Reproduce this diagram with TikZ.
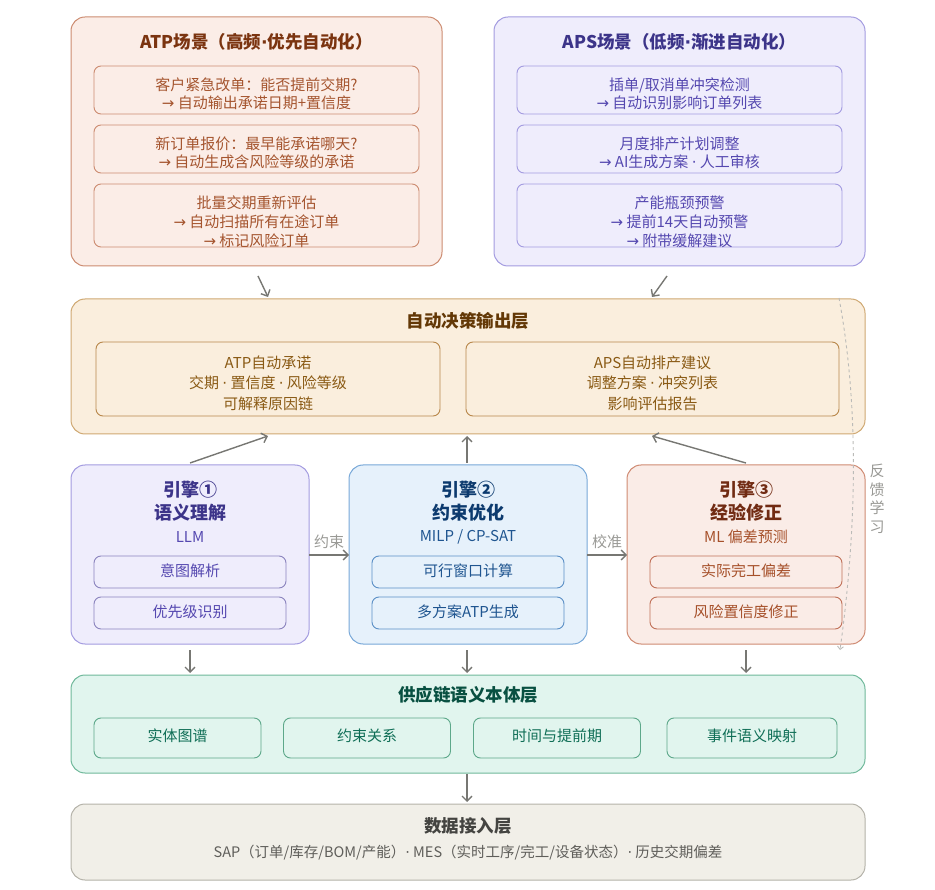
\documentclass[tikz,border=0pt]{standalone}
\usepackage{fontspec}
\setmainfont{Noto Sans CJK SC}
\newfontfamily\arrfont{DejaVu Sans}
\newcommand{\ra}{{\arrfont\char"2192}}
\newcommand{\md}{{\arrfont\char"00B7}}
\usetikzlibrary{arrows.meta,calc}
\definecolor{atpfill}{HTML}{FBEDE7}
\definecolor{atpdraw}{HTML}{CC8B70}
\definecolor{atptitle}{HTML}{7B3410}
\definecolor{atptext}{HTML}{A5552F}
\definecolor{apsfill}{HTML}{EFEDFC}
\definecolor{apsdraw}{HTML}{A39BE0}
\definecolor{apstitle}{HTML}{3C3489}
\definecolor{apstext}{HTML}{5548B0}
\definecolor{decfill}{HTML}{FAEEDD}
\definecolor{decdraw}{HTML}{CFA872}
\definecolor{decsub}{HTML}{B8874A}
\definecolor{dectitle}{HTML}{633806}
\definecolor{dectext}{HTML}{8A5A14}
\definecolor{eonefill}{HTML}{EFEDFC}
\definecolor{etwofill}{HTML}{E6F1FB}
\definecolor{etwodraw}{HTML}{78A8D8}
\definecolor{etwosub}{HTML}{5B8FC6}
\definecolor{etwotitle}{HTML}{0C3A6E}
\definecolor{etwotext}{HTML}{1F5590}
\definecolor{ethrfill}{HTML}{FAECE7}
\definecolor{ethrdraw}{HTML}{CF8A72}
\definecolor{ethrsub}{HTML}{C07058}
\definecolor{ethrtitle}{HTML}{712B13}
\definecolor{ethrtext}{HTML}{A6502A}
\definecolor{ontfill}{HTML}{E1F5EE}
\definecolor{ontdraw}{HTML}{6FB89A}
\definecolor{ontsub}{HTML}{5DA88A}
\definecolor{onttitle}{HTML}{085041}
\definecolor{onttext}{HTML}{0F6E56}
\definecolor{datfill}{HTML}{F1EFE8}
\definecolor{datdraw}{HTML}{B4B2A9}
\definecolor{dattitle}{HTML}{444441}
\definecolor{dattext}{HTML}{5F5E5A}
\definecolor{arrgray}{HTML}{777773}
\definecolor{fbgray}{HTML}{BBBBB8}
\definecolor{fbtext}{HTML}{999995}
\begin{document}
\begin{tikzpicture}[x=1pt,y=-1pt,
  panel/.style={draw, rounded corners=14pt, line width=1pt, inner sep=0pt, outer sep=0pt},
  subbox/.style={draw, rounded corners=7pt, line width=0.9pt, inner sep=0pt, outer sep=0pt},
  txt/.style={align=center, inner sep=0pt, font=\fontsize{15}{18}\selectfont},
  ttl/.style={align=center, inner sep=0pt, font=\fontsize{17.5}{21}\selectfont\bfseries},
  etl/.style={align=center, inner sep=0pt, font=\fontsize{18}{22.5}\selectfont\bfseries},
  arr/.style={draw=arrgray, line width=1.4pt, -{Straight Barb[length=5pt,width=10pt]}},
  lbl/.style={inner sep=0pt, text=fbtext, font=\fontsize{15}{18}\selectfont}
]
\useasboundingbox (0,0) rectangle (935,890);

% ATP scenario
\node[panel, fill=atpfill, draw=atpdraw, minimum width=371pt, minimum height=249pt] (atp) at (256.5,141.5) {};
\node[ttl, text=atptitle] (atpt) at (256.5,42) {ATP场景（高频\md 优先自动化）};
\node[subbox, fill=atpfill, draw=atpdraw, minimum width=325pt, minimum height=48pt] (atp1) at (256.5,90) {};
\node[txt, text=atptext] (atp1t) at (256.5,94) {客户紧急改单：能否提前交期?\\ \ra{} 自动输出承诺日期+置信度};
\node[subbox, fill=atpfill, draw=atpdraw, minimum width=325pt, minimum height=48pt] (atp2) at (256.5,149) {};
\node[txt, text=atptext] (atp2t) at (256.5,152.5) {新订单报价：最早能承诺哪天?\\ \ra{} 自动生成含风险等级的承诺};
\node[subbox, fill=atpfill, draw=atpdraw, minimum width=325pt, minimum height=63pt] (atp3) at (256.5,215.5) {};
\node[txt, text=atptext, font=\fontsize{15}{19}\selectfont] (atp3t) at (256.5,221.5) {批量交期重新评估\\ \ra{} 自动扫描所有在途订单\\ \ra{} 标记风险订单};

% APS scenario
\node[panel, fill=apsfill, draw=apsdraw, minimum width=371pt, minimum height=249pt] (aps) at (679.5,141.5) {};
\node[ttl, text=apstitle] (apst) at (679.5,42) {APS场景（低频\md 渐进自动化）};
\node[subbox, fill=apsfill, draw=apsdraw, minimum width=325pt, minimum height=48pt] (aps1) at (679.5,90) {};
\node[txt, text=apstext] (aps1t) at (679.5,94) {插单/取消单冲突检测\\ \ra{} 自动识别影响订单列表};
\node[subbox, fill=apsfill, draw=apsdraw, minimum width=325pt, minimum height=48pt] (aps2) at (679.5,149) {};
\node[txt, text=apstext] (aps2t) at (679.5,152.5) {月度排产计划调整\\ \ra{} AI生成方案 \md{} 人工审核};
\node[subbox, fill=apsfill, draw=apsdraw, minimum width=325pt, minimum height=63pt] (aps3) at (679.5,215.5) {};
\node[txt, text=apstext, font=\fontsize{15}{19}\selectfont] (aps3t) at (679.5,221.5) {产能瓶颈预警\\ \ra{} 提前14天自动预警\\ \ra{} 附带缓解建议};

% Decision layer
\node[panel, fill=decfill, draw=decdraw, minimum width=794pt, minimum height=135pt] (dec) at (468,366.5) {};
\node[ttl, text=dectitle] (dect) at (468,321) {自动决策输出层};
\node[subbox, fill=decfill, draw=decsub, minimum width=344pt, minimum height=74pt] (decl) at (268,379) {};
\node[txt, text=dectext, font=\fontsize{15}{20.5}\selectfont] (declt) at (268,383) {ATP自动承诺\\ 交期 \md{} 置信度 \md{} 风险等级\\ 可解释原因链};
\node[subbox, fill=decfill, draw=decsub, minimum width=373pt, minimum height=74pt] (decr) at (652.5,379) {};
\node[txt, text=dectext, font=\fontsize{15}{20.5}\selectfont] (decrt) at (652.5,383) {APS自动排产建议\\ 调整方案 \md{} 冲突列表\\ 影响评估报告};

% Engines
\node[panel, fill=eonefill, draw=apsdraw, minimum width=238pt, minimum height=179pt] (e1) at (190,554.5) {};
\node[etl, text=apstitle] (e1t) at (190,501) {引擎①\\ 语义理解};
\node[txt, text=apstext] (e1s) at (190,537) {LLM};
\node[subbox, fill=eonefill, draw=apsdraw!85!black, minimum width=192pt, minimum height=32pt] (e1a) at (190,572) {};
\node[txt, text=apstext] (e1at) at (190,571) {意图解析};
\node[subbox, fill=eonefill, draw=apsdraw!85!black, minimum width=192pt, minimum height=32pt] (e1b) at (190,613) {};
\node[txt, text=apstext] (e1bt) at (190,612) {优先级识别};

\node[panel, fill=etwofill, draw=etwodraw, minimum width=238pt, minimum height=179pt] (e2) at (468,554.5) {};
\node[etl, text=etwotitle] (e2t) at (468,501) {引擎②\\ 约束优化};
\node[txt, text=etwotext] (e2s) at (468,537) {MILP / CP-SAT};
\node[subbox, fill=etwofill, draw=etwosub, minimum width=192pt, minimum height=32pt] (e2a) at (468,572) {};
\node[txt, text=etwotext] (e2at) at (468,571) {可行窗口计算};
\node[subbox, fill=etwofill, draw=etwosub, minimum width=192pt, minimum height=32pt] (e2b) at (468,613) {};
\node[txt, text=etwotext] (e2bt) at (468,612) {多方案ATP生成};

\node[panel, fill=ethrfill, draw=ethrdraw, minimum width=238pt, minimum height=179pt] (e3) at (746,554.5) {};
\node[etl, text=ethrtitle] (e3t) at (746,501) {引擎③\\ 经验修正};
\node[txt, text=ethrtext] (e3s) at (746,537) {ML 偏差预测};
\node[subbox, fill=ethrfill, draw=ethrsub, minimum width=192pt, minimum height=32pt] (e3a) at (746,572) {};
\node[txt, text=ethrtext] (e3at) at (746,571) {实际完工偏差};
\node[subbox, fill=ethrfill, draw=ethrsub, minimum width=192pt, minimum height=32pt] (e3b) at (746,613) {};
\node[txt, text=ethrtext] (e3bt) at (746,612) {风险置信度修正};

% Ontology layer
\node[panel, fill=ontfill, draw=ontdraw, minimum width=794pt, minimum height=98pt] (ont) at (468,724) {};
\node[ttl, text=onttitle] (ontt) at (468,695) {供应链语义本体层};
\node[subbox, fill=ontfill, draw=ontsub, minimum width=167pt, minimum height=40pt] (o1) at (177.5,738) {};
\node[txt, text=onttext] (o1t) at (177.5,736) {实体图谱};
\node[subbox, fill=ontfill, draw=ontsub, minimum width=167pt, minimum height=40pt] (o2) at (367,738) {};
\node[txt, text=onttext] (o2t) at (367,736) {约束关系};
\node[subbox, fill=ontfill, draw=ontsub, minimum width=167pt, minimum height=40pt] (o3) at (557,738) {};
\node[txt, text=onttext] (o3t) at (557,736) {时间与提前期};
\node[subbox, fill=ontfill, draw=ontsub, minimum width=170pt, minimum height=40pt] (o4) at (752,738) {};
\node[txt, text=onttext] (o4t) at (752,736) {事件语义映射};

% Data layer
\node[panel, fill=datfill, draw=datdraw, minimum width=794pt, minimum height=76pt] (dat) at (468,842) {};
\node[ttl, text=dattitle] (datt) at (468,826) {数据接入层};
\node[txt, text=dattext, font=\fontsize{14.5}{17}\selectfont] (dats) at (468,853) {SAP（订单/库存/BOM/产能）\md{} MES（实时工序/完工/设备状态）\md{} 历史交期偏差};

% Arrows
\draw[arr] ($(atp.south)+(1.5,10)$) -- ($(dec.north)+(-200,-2)$);
\draw[arr] ($(aps.south)+(-12.5,10)$) -- ($(dec.north)+(184,-2)$);
\draw[arr] ($(e1.north)+(0,-2)$) -- ($(dec.south)+(-200,2)$);
\draw[arr] ($(e2.north)+(-1,-2)$) -- ($(dec.south)+(-1,2)$);
\draw[arr] ($(e3.north)+(0,-2)$) -- ($(dec.south)+(184,2)$);
\draw[arr] (e1.east |- 0,555) -- node[lbl, above=6pt] (c1) {约束} (e2.west |- 0,555);
\draw[arr] (e2.east |- 0,555) -- node[lbl, above=6pt] (c2) {校准} (e3.west |- 0,555);
\draw[arr] ($(e1.south)+(0,6)$) -- ($(ont.north)+(-278,-2)$);
\draw[arr] ($(e2.south)+(-1,6)$) -- ($(ont.north)+(-1,-2)$);
\draw[arr] ($(e3.south)+(0,6)$) -- ($(ont.north)+(278,-2)$);
\draw[arr] ($(ont.south)+(-1,1)$) -- ($(dat.north)+(-1,-2)$);

% Feedback loop
\coordinate (fbs) at ($(dec.north east)+(-26,-1)$);
\coordinate (fbe) at ($(e3.south east)+(-25,6)$);
\draw[draw=fbgray, line width=0.9pt, dashed, -{Straight Barb[length=3pt,width=6pt]}] (fbs) .. controls (858,400) and (858,520) .. (fbe);
\node[lbl, align=center, font=\fontsize{15}{18.5}\selectfont] (fbl) at (877,499) {反\\ 馈\\ 学\\ 习};
\end{tikzpicture}
\end{document}
